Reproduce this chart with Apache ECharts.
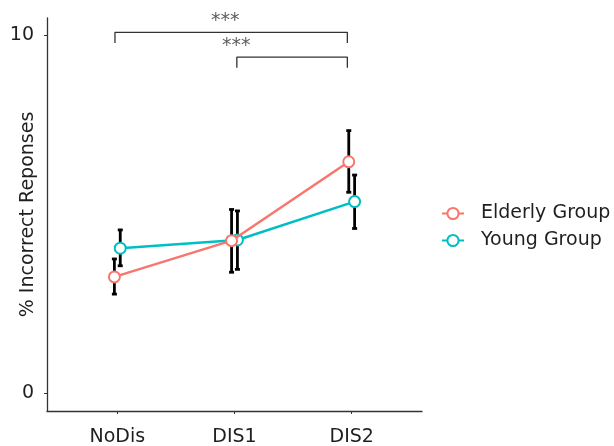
<!DOCTYPE html>
<html><head><meta charset="utf-8">
<script src="https://cdn.jsdelivr.net/npm/echarts@6/dist/echarts.min.js"></script>
<style>html,body{margin:0;padding:0;background:#fff}#c{width:614px;height:446px}</style>
</head><body><div id="c"></div>
<script>
var categories = ['NoDis', 'DIS1', 'DIS2'];
var elderlyMean = [3.25, 4.26, 6.46];
var elderlyLow = [2.77, 3.38, 5.61];
var elderlyHigh = [3.75, 5.13, 7.33];
var youngMean = [4.05, 4.28, 5.35];
var youngLow = [3.56, 3.46, 4.60];
var youngHigh = [4.56, 5.09, 6.09];
var yTicks = [0, 10];
// significance brackets: [fromCategoryIndex, toCategoryIndex, label]
var sigPairs = [[0, 2, '***'], [1, 2, '***']];
var sigLevels = [10.07, 9.38];

var RED = '#F8766D', TEAL = '#00BFC4', TXT = '#1f1f1f', FONT = 'DejaVu Sans';
var dodge = 0.025;
function pts(mean, off){ return mean.map(function(v,i){ return [i + 1 + off, v]; }); }
function bars(lo, hi, off){ return lo.map(function(v,i){ return [i + 1 + off, v, hi[i]]; }); }

var bracketX = [[-0.02, -0.037], [0.02, -0.037]];
var bracketSeries = [], starData = [];
var starX = [1.92, 2.015];
sigPairs.forEach(function(p, k){
  var x1 = p[0] + 1 + bracketX[k][0], x2 = p[1] + 1 + bracketX[k][1], y = sigLevels[k];
  bracketSeries.push({
    type: 'line', data: [[x1, y - 0.3], [x1, y], [x2, y], [x2, y - 0.3]],
    symbol: 'none', lineStyle: {color: '#333', width: 1.3}, silent: true, clip: false, z: 1
  });
  starData.push({value: [starX[k], y + 0.31], label: {formatter: p[2]}});
});

function errItem(params, api){
  var x = api.value(0), lo = api.coord([x, api.value(1)]), hi = api.coord([x, api.value(2)]);
  var w = 2.5;
  return {type: 'group', children: [
    {type: 'line', shape: {x1: lo[0], y1: lo[1], x2: hi[0], y2: hi[1]}, style: {stroke: '#000', lineWidth: 2.8}},
    {type: 'line', shape: {x1: lo[0]-w, y1: lo[1], x2: lo[0]+w, y2: lo[1]}, style: {stroke: '#000', lineWidth: 2.8}},
    {type: 'line', shape: {x1: hi[0]-w, y1: hi[1], x2: hi[0]+w, y2: hi[1]}, style: {stroke: '#000', lineWidth: 2.8}}
  ]};
}

var chart = echarts.init(document.getElementById('c'), null, {renderer: 'canvas'});
chart.setOption({
  animation: false,
  backgroundColor: '#fff',
  textStyle: {fontFamily: FONT},
  grid: {left: 47, right: 192, top: 18, bottom: 35, containLabel: false, outerBoundsMode: 'none'},
  legend: {
    orient: 'vertical', left: 436, top: 199, itemGap: 8, itemWidth: 22, itemHeight: 14,
    data: ['Elderly Group', 'Young Group'],
    textStyle: {fontFamily: FONT, fontSize: 19, color: TXT, padding: [0, 0, 0, 12]}
  },
  xAxis: {
    type: 'value', min: 0.4, max: 3.6,
    axisLine: {show: true, onZero: false, lineStyle: {color: '#333', width: 1.3}},
    axisTick: {show: true, length: 3, lineStyle: {color: '#333'}, customValues: [1, 2, 3]},
    axisLabel: {customValues: [1, 2, 3], formatter: function(v){ return categories[Math.round(v) - 1]; },
      fontFamily: FONT, fontSize: 19, color: TXT, margin: 17},
    splitLine: {show: false}
  },
  yAxis: {
    type: 'value', min: -0.49, max: 10.47,
    name: '% Incorrect Reponses', nameLocation: 'middle', nameGap: 9, nameMoveOverlap: false,
    nameTextStyle: {fontFamily: FONT, fontSize: 19, color: TXT},
    axisLine: {show: true, onZero: false, lineStyle: {color: '#333', width: 1.3}},
    axisTick: {show: true, length: 3, lineStyle: {color: '#333'}, customValues: yTicks},
    axisLabel: {customValues: yTicks, fontFamily: FONT, fontSize: 19, color: TXT, margin: 13},
    splitLine: {show: false}
  },
  series: bracketSeries.concat([
    {type: 'scatter', data: starData, symbolSize: 0, silent: true, clip: false, z: 2,
     label: {show: true, position: 'inside', fontFamily: FONT, fontSize: 19, color: '#333'}},
    {type: 'custom', name: 'errE', data: bars(elderlyLow, elderlyHigh, -dodge), renderItem: errItem, z: 3, silent: true},
    {type: 'custom', name: 'errY', data: bars(youngLow, youngHigh, dodge), renderItem: errItem, z: 3, silent: true},
    {type: 'line', name: 'Elderly Group', data: pts(elderlyMean, -dodge), z: 5,
     symbol: 'emptyCircle', symbolSize: 11, showAllSymbol: true,
     lineStyle: {color: RED, width: 2.5}, itemStyle: {color: RED, borderWidth: 2.5}},
    {type: 'line', name: 'Young Group', data: pts(youngMean, dodge), z: 4,
     symbol: 'emptyCircle', symbolSize: 11, showAllSymbol: true,
     lineStyle: {color: TEAL, width: 2.5}, itemStyle: {color: TEAL, borderWidth: 2.5}}
  ])
});
</script></body></html>
